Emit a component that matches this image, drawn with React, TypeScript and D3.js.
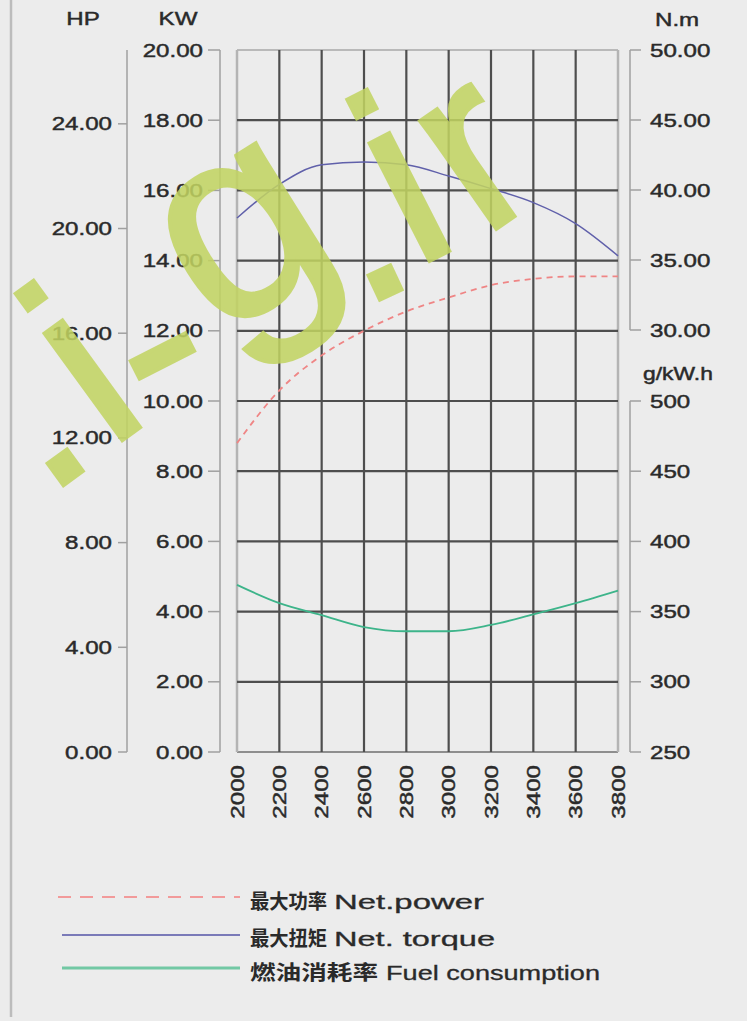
import React from "react";
import * as d3 from "d3";

// engine curve, every 200 rpm
const rpm = [2000, 2200, 2400, 2600, 2800, 3000, 3200, 3400, 3600, 3800];
const netPowerKw = [8.8, 10.3, 11.3, 12.0, 12.55, 12.95, 13.3, 13.48, 13.55, 13.55];
const netTorqueNm = [38.0, 40.4, 41.8, 42.0, 41.8, 41.0, 40.1, 39.1, 37.6, 35.3];
const fuelGkwh = [369, 356, 347.5, 339, 336, 336, 340.5, 348, 356, 365];

const kwTicks = [0, 2, 4, 6, 8, 10, 12, 14, 16, 18, 20];
const hpTicks = [0, 4, 8, 12, 16, 20, 24];
const nmTicks = [30, 35, 40, 45, 50];
const fuelTicks = [250, 300, 350, 400, 450, 500];

const legendItems = [
  { zh: "最大功率", en: "Net.power", zhLen: 77, enX: 334, enLen: 150 },
  { zh: "最大扭矩", en: "Net. torque", zhLen: 77, enX: 334, enLen: 161 },
  { zh: "燃油消耗率", en: "Fuel consumption", zhLen: 128, enX: 386, enLen: 214 },
];

const W = 747;
const H = 1021;
const FONT = "'Liberation Sans', Arial, Helvetica, sans-serif";
const CJK = "'Noto Sans CJK SC', 'Liberation Sans', sans-serif";
const SX = 1.27; // the sheet's lettering is stretched sideways
const INK = "#2a2a2a";

const POWER = "#ef8585";
const TORQUE = "#6060aa";
const FUEL = "#3db48a";

const Txt = ({ x, y, anchor = "start", rot = 0, size = 19, children }: any) => (
  <text
    transform={`translate(${x},${y}) rotate(${rot}) scale(${SX},1)`}
    textAnchor={anchor}
    dominantBaseline="central"
    fontSize={size}
    fontFamily={FONT}
    fill={INK}
    stroke={INK}
    strokeWidth={0.45}
  >
    {children}
  </text>
);

// watermark glyphs laid along a bent line
const mark = [
  { ch: ".", x: 65, y: 467, r: -36, s: 250, dx: 0, base: 0.055 },
  { ch: "i", x: 93, y: 381, r: -36, s: 250, dx: 0, base: 0.26 },
  { ch: "-", x: 162, y: 355, r: -27, s: 250, dx: 0, base: 0.27 },
  { ch: "g", x: 245, y: 238, r: -32, s: 278, dx: 0, base: 0.26 },
  { ch: ".", x: 385, y: 282, r: -25, s: 250, dx: 0, base: 0.055 },
  { ch: "i", x: 410, y: 198, r: -27, s: 250, dx: 0, base: 0.26 },
  { ch: "r", x: 467, y: 170, r: -35, s: 250, dx: -0.108, base: 0.26 },
];

export default function App() {
  const x = d3.scaleLinear().domain([2000, 3800]).range([237, 618]);
  const kw = d3.scaleLinear().domain([0, 20]).range([752, 50]);
  const hp = d3.scaleLinear().domain([0, 20 / 0.7457]).range([752, 50]);
  const nm = d3.scaleLinear().domain([30, 50]).range([330, 50]);
  const fuel = d3.scaleLinear().domain([250, 500]).range([752, 401]);

  const mk = (vals: number[], y: d3.ScaleLinear<number, number>) =>
    d3
      .line<number>()
      .x((_, i) => x(rpm[i]))
      .y((v) => y(v))
      .curve(d3.curveMonotoneX)(vals) as string;

  const inner = rpm.slice(1, -1);
  const innerKw = kwTicks.slice(1, -1);
  const [x0, x1] = x.range();
  const [yb, yt] = kw.range();

  return (
    <svg
      width={W}
      height={H}
      style={{ position: "absolute", left: 0, top: 0, display: "block" }}
    >
      <rect width={W} height={H} fill="#ececec" />
      <line x1={11} x2={11} y1={0} y2={1017} stroke="#bcbcbc" strokeWidth={2.5} />

      {/* grid */}
      <g>
        <line x1={x0} x2={x1} y1={yt} y2={yt} stroke="#a8a8a8" strokeWidth={1.5} />
        <line x1={x0} x2={x1} y1={yb} y2={yb} stroke="#8e8e8e" strokeWidth={2} />
        <line x1={x0} x2={x0} y1={yt} y2={yb} stroke="#b4b4b4" strokeWidth={2.5} />
        <line x1={x1} x2={x1} y1={yt} y2={yb} stroke="#b4b4b4" strokeWidth={2.5} />
        {innerKw.map((t) => (
          <line key={"h" + t} x1={x0} x2={x1} y1={kw(t)} y2={kw(t)} stroke="#4e4e4e" strokeWidth={2.2} />
        ))}
        {inner.map((t) => (
          <line key={"v" + t} x1={x(t)} x2={x(t)} y1={yt} y2={yb} stroke="#4e4e4e" strokeWidth={2.2} />
        ))}
      </g>

      {/* HP axis */}
      <g>
        <line x1={127} x2={127} y1={50} y2={752} stroke="#a0a0a0" strokeWidth={1.5} />
        {hpTicks.map((t) => (
          <g key={"hp" + t}>
            <line x1={118} x2={127} y1={hp(t)} y2={hp(t)} stroke="#a0a0a0" strokeWidth={1.5} />
            <Txt x={112} y={hp(t)} anchor="end">{t.toFixed(2)}</Txt>
          </g>
        ))}
        <Txt x={83} y={18} anchor="middle">HP</Txt>
      </g>

      {/* KW axis */}
      <g>
        <line x1={220} x2={220} y1={50} y2={752} stroke="#a0a0a0" strokeWidth={1.5} />
        {kwTicks.map((t) => (
          <g key={"kw" + t}>
            <line x1={208} x2={220} y1={kw(t)} y2={kw(t)} stroke="#a0a0a0" strokeWidth={1.5} />
            <Txt x={203} y={kw(t)} anchor="end">{t.toFixed(2)}</Txt>
          </g>
        ))}
        <Txt x={178} y={18} anchor="middle">KW</Txt>
      </g>

      {/* N.m axis */}
      <g>
        <line x1={630} x2={630} y1={nm(50)} y2={nm(30)} stroke="#a0a0a0" strokeWidth={1.5} />
        {nmTicks.map((t) => (
          <g key={"nm" + t}>
            <line x1={630} x2={641} y1={nm(t)} y2={nm(t)} stroke="#a0a0a0" strokeWidth={1.5} />
            <Txt x={650} y={nm(t)}>{t.toFixed(2)}</Txt>
          </g>
        ))}
        <Txt x={655} y={19}>N.m</Txt>
      </g>

      {/* fuel axis */}
      <g>
        <line x1={630} x2={630} y1={fuel(500)} y2={fuel(250)} stroke="#a0a0a0" strokeWidth={1.5} />
        {fuelTicks.map((t) => (
          <g key={"fu" + t}>
            <line x1={630} x2={641} y1={fuel(t)} y2={fuel(t)} stroke="#a0a0a0" strokeWidth={1.5} />
            <Txt x={650} y={fuel(t)}>{String(t)}</Txt>
          </g>
        ))}
        <Txt x={643} y={373} size={18}>g/kW.h</Txt>
      </g>

      {/* rpm labels */}
      {rpm.map((t) => (
        <Txt key={"r" + t} x={x(t)} y={765} rot={-90} anchor="end">{String(t)}</Txt>
      ))}

      {/* curves */}
      <path d={mk(fuelGkwh, fuel)} fill="none" stroke={FUEL} strokeWidth={1.8} />
      <path d={mk(netTorqueNm, nm)} fill="none" stroke={TORQUE} strokeWidth={1.5} />
      <path d={mk(netPowerKw, kw)} fill="none" stroke={POWER} strokeWidth={1.8} strokeDasharray="6,5" />

      {/* legend */}
      <g>
        <line x1={58} x2={240} y1={897} y2={897} stroke="#f29a9a" strokeWidth={2} strokeDasharray="13,9" />
        <line x1={62} x2={240} y1={935} y2={935} stroke="#7a7ab8" strokeWidth={2} />
        <line x1={62} x2={240} y1={968} y2={968} stroke="#72c8a4" strokeWidth={3} />
        {legendItems.map((d, i) => {
          const by = [909, 946, 980][i];
          return (
            <g key={d.en}>
              <text x={250} y={by} fontSize={20} fontFamily={CJK} fontWeight="bold" fill={INK}
                textLength={d.zhLen} lengthAdjust="spacingAndGlyphs">{d.zh}</text>
              <text x={d.enX} y={by} fontSize={20} fontFamily={FONT} fill={INK}
                stroke={INK} strokeWidth={0.3}
                textLength={d.enLen} lengthAdjust="spacingAndGlyphs">{d.en}</text>
            </g>
          );
        })}
      </g>

      {/* watermark */}
      <g opacity={0.86} fill="#c2d461" stroke="#c2d461" strokeWidth={4} fontFamily={FONT}>
        {mark.map((m, i) => (
          <text
            key={i}
            transform={`translate(${m.x},${m.y}) rotate(${m.r})`}
            x={m.dx * m.s}
            y={m.base * m.s}
            fontSize={m.s}
            textAnchor={m.dx ? "start" : "middle"}
          >
            {m.ch}
          </text>
        ))}
      </g>
    </svg>
  );
}
